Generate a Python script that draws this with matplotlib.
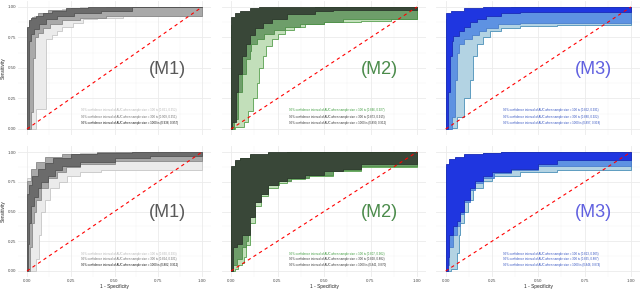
import matplotlib
matplotlib.use("Agg")
import matplotlib.pyplot as plt

plt.rcParams['font.family'] = ['Liberation Sans', 'DejaVu Sans']

# knots: (x, y) -> at x the ROC bound climbs to y, then runs right to the next knot
# top row, M1
a100_up = [(0, 0.80), (0.01, 0.86), (0.02, 0.90), (0.04, 0.93), (0.07, 0.95), (0.12, 0.97), (0.2, 0.985), (0.3, 1.0), (1, 1)]
a100_lo = [(0.05, 0.16), (0.11, 0.74), (0.14, 0.77), (0.17, 0.80), (0.2, 0.84), (0.26, 0.87), (0.32, 0.90), (0.4, 0.91), (0.55, 0.925), (1, 1)]
a300_up = [(0, 0.83), (0.01, 0.88), (0.03, 0.92), (0.06, 0.95), (0.12, 0.975), (0.25, 0.99), (0.45, 1.0), (1, 1)]
a300_lo = [(0.02, 0.14), (0.035, 0.58), (0.045, 0.75), (0.06, 0.79), (0.09, 0.83), (0.13, 0.86), (0.2, 0.89), (0.3, 0.91), (0.45, 0.925), (1, 1)]
a1000_up = [(0, 0.84), (0.01, 0.89), (0.025, 0.91), (0.05, 0.93), (0.09, 0.95), (0.14, 0.97), (0.22, 0.99), (0.35, 1.0), (1, 1)]
a1000_lo = [(0.012, 0.72), (0.02, 0.78), (0.04, 0.82), (0.07, 0.86), (0.11, 0.9), (0.17, 0.93), (0.27, 0.95), (0.42, 0.965), (0.6, 1.0), (1, 1)]

# top row, M2
b100_up = [(0, 0.75), (0.01, 0.85), (0.03, 0.9), (0.06, 0.93), (0.1, 0.95), (0.18, 0.97), (0.3, 0.99), (0.45, 1.0), (1, 1)]
b100_lo = [(0.02, 0.02), (0.07, 0.06), (0.09, 0.15), (0.12, 0.25), (0.14, 0.38), (0.15, 0.5), (0.17, 0.6), (0.19, 0.68), (0.22, 0.74),
           (0.25, 0.78), (0.29, 0.81), (0.34, 0.84), (0.4, 0.86), (0.5, 0.875), (0.7, 0.885), (0.86, 0.9), (1, 1)]
b300_up = [(0, 0.85), (0.02, 0.9), (0.05, 0.94), (0.1, 0.96), (0.18, 0.98), (0.3, 0.995), (0.45, 1), (1, 1)]
b300_lo = [(0.015, 0.08), (0.04, 0.3), (0.06, 0.45), (0.08, 0.57), (0.1, 0.64), (0.11, 0.7), (0.14, 0.74), (0.18, 0.78), (0.23, 0.81),
           (0.29, 0.84), (0.37, 0.86), (0.5, 0.88), (0.6, 0.9), (1, 1)]
b1000_up = [(0, 0.92), (0.02, 0.95), (0.05, 0.97), (0.1, 0.99), (0.15, 1.0), (1, 1)]
b1000_lo = [(0.008, 0.06), (0.025, 0.3), (0.04, 0.45), (0.06, 0.6), (0.08, 0.7), (0.1, 0.77), (0.13, 0.83), (0.17, 0.87), (0.22, 0.9),
            (0.3, 0.94), (0.45, 0.965), (0.55, 0.975), (1, 1)]

# top row, M3
c100_up = [(0, 0.6), (0.01, 0.8), (0.03, 0.88), (0.06, 0.93), (0.1, 0.96), (0.2, 0.98), (0.35, 1), (1, 1)]
c100_lo = [(0.03, 0.01), (0.06, 0.1), (0.1, 0.25), (0.13, 0.4), (0.15, 0.6), (0.17, 0.7), (0.2, 0.75), (0.24, 0.8), (0.3, 0.83),
           (0.4, 0.845), (0.6, 0.855), (1, 1)]
c300_up = [(0, 0.9), (0.02, 0.94), (0.06, 0.96), (0.12, 0.98), (0.25, 0.995), (0.4, 1), (1, 1)]
c300_lo = [(0.035, 0.1), (0.05, 0.4), (0.06, 0.62), (0.07, 0.7), (0.1, 0.74), (0.14, 0.77), (0.18, 0.8), (0.22, 0.83), (0.28, 0.86),
           (0.4, 0.87), (1, 1)]
c1000_up = [(0, 0.95), (0.03, 0.97), (0.1, 0.99), (0.2, 1), (1, 1)]
c1000_lo = [(0.015, 0.3), (0.025, 0.6), (0.035, 0.72), (0.04, 0.76), (0.07, 0.8), (0.1, 0.84), (0.13, 0.88), (0.17, 0.9),
            (0.22, 0.93), (0.3, 0.95), (0.4, 0.96), (1, 1)]

# bottom row, M1
d100_up = [(0, 0.78), (0.02, 0.85), (0.05, 0.9), (0.1, 0.95), (0.2, 0.97), (0.3, 0.99), (0.5, 1), (1, 1)]
d100_lo = [(0.05, 0.1), (0.07, 0.3), (0.08, 0.5), (0.1, 0.6), (0.13, 0.7), (0.18, 0.75), (0.23, 0.8), (0.3, 0.83), (0.42, 0.85), (1, 1)]
d300_up = [(0, 0.76), (0.02, 0.86), (0.05, 0.92), (0.1, 0.96), (0.2, 0.98), (0.4, 1), (1, 1)]
d300_lo = [(0.015, 0.2), (0.03, 0.4), (0.04, 0.5), (0.05, 0.6), (0.08, 0.7), (0.12, 0.78), (0.17, 0.83), (0.22, 0.87), (0.3, 0.9),
           (0.5, 0.925), (1, 1)]
d1000_up = [(0, 0.65), (0.01, 0.72), (0.03, 0.8), (0.06, 0.86), (0.1, 0.91), (0.15, 0.95), (0.25, 0.98), (0.4, 0.99), (0.6, 1), (1, 1)]
d1000_lo = [(0.005, 0.23), (0.01, 0.4), (0.02, 0.55), (0.04, 0.62), (0.06, 0.7), (0.08, 0.75), (0.12, 0.8), (0.16, 0.85), (0.2, 0.88),
            (0.3, 0.92), (0.5, 0.95), (0.7, 0.97), (1, 1)]

# bottom row, M2
e100_up = [(0, 0.85), (0.02, 0.9), (0.05, 0.94), (0.1, 0.97), (0.2, 0.99), (0.3, 1), (1, 1)]
e100_lo = [(0.02, 0.02), (0.04, 0.05), (0.06, 0.07), (0.07, 0.12), (0.08, 0.22), (0.1, 0.4), (0.13, 0.55), (0.16, 0.63), (0.2, 0.7),
           (0.25, 0.74), (0.3, 0.77), (0.4, 0.8), (0.55, 0.84), (0.7, 0.87), (1, 1)]
e300_up = [(0, 0.86), (0.02, 0.92), (0.05, 0.95), (0.1, 0.975), (0.2, 0.99), (0.3, 1), (1, 1)]
e300_lo = [(0.01, 0.05), (0.03, 0.1), (0.06, 0.2), (0.08, 0.25), (0.09, 0.45), (0.12, 0.58), (0.15, 0.65), (0.2, 0.72), (0.26, 0.76),
           (0.32, 0.78), (0.42, 0.81), (0.55, 0.85), (0.7, 0.88), (1, 1)]
e1000_up = [(0, 0.88), (0.02, 0.93), (0.05, 0.95), (0.1, 0.98), (0.2, 1), (1, 1)]
e1000_lo = [(0.01, 0.2), (0.03, 0.23), (0.06, 0.3), (0.1, 0.45), (0.13, 0.58), (0.16, 0.65), (0.2, 0.72), (0.25, 0.76), (0.3, 0.78),
            (0.4, 0.81), (0.5, 0.84), (0.6, 0.86), (0.7, 0.9), (1, 1)]

# bottom row, M3
f100_up = [(0, 0.85), (0.02, 0.9), (0.05, 0.94), (0.1, 0.97), (0.2, 0.99), (0.35, 1), (1, 1)]
f100_lo = [(0.03, 0.02), (0.06, 0.15), (0.07, 0.3), (0.08, 0.4), (0.1, 0.5), (0.12, 0.6), (0.15, 0.7), (0.2, 0.76), (0.25, 0.8),
           (0.4, 0.83), (0.6, 0.85), (1, 1)]
f300_up = [(0, 0.87), (0.02, 0.92), (0.05, 0.95), (0.1, 0.975), (0.2, 0.99), (0.3, 1), (1, 1)]
f300_lo = [(0.005, 0.05), (0.02, 0.2), (0.04, 0.3), (0.06, 0.38), (0.08, 0.48), (0.1, 0.58), (0.13, 0.68), (0.16, 0.74), (0.2, 0.78),
           (0.26, 0.82), (0.35, 0.85), (0.5, 0.88), (1, 1)]
f1000_up = [(0, 0.9), (0.02, 0.94), (0.05, 0.96), (0.1, 0.98), (0.2, 0.99), (0.3, 1), (1, 1)]
f1000_lo = [(0.01, 0.12), (0.02, 0.3), (0.04, 0.38), (0.06, 0.42), (0.08, 0.5), (0.1, 0.6), (0.13, 0.7), (0.16, 0.76), (0.2, 0.8),
            (0.25, 0.83), (0.35, 0.86), (0.5, 0.9), (0.6, 0.935), (1, 1)]

sample_sizes = ["100", "300", "1000"]
ci_a = ["(0.861, 0.952)", "(0.909, 0.951)", "(0.938, 0.957)"]
ci_b = ["(0.846, 0.927)", "(0.873, 0.915)", "(0.890, 0.912)"]
ci_c = ["(0.852, 0.931)", "(0.880, 0.922)", "(0.897, 0.918)"]
ci_d = ["(0.830, 0.933)", "(0.864, 0.921)", "(0.882, 0.912)"]
ci_e = ["(0.807, 0.902)", "(0.828, 0.882)", "(0.841, 0.870)"]
ci_f = ["(0.813, 0.905)", "(0.835, 0.887)", "(0.846, 0.874)"]
model_names = ["(M1)", "(M2)", "(M3)"]
ticks = [0, 0.25, 0.5, 0.75, 1.0]
tick_labels = ["0.00", "0.25", "0.50", "0.75", "1.00"]

# colours: light / medium / dark fill, edges, label colour, text colours
fills = [["#ebebeb", "#a9a9a9", "#6b6b6b"],
         ["#c2dfba", "#6e9e6a", "#394738"],
         ["#b3d3e3", "#5e92e2", "#1f36e0"]]
edges = [["#c6c6c6", "#8a8a8a", "#555555"],
         ["#58a04f", "#4d8f47", "#2c382c"],
         ["#4a90b8", "#4a7fcc", "#1a2cb8"]]
name_colors = ["#595959", "#4b8b4b", "#6060e0"]
text_colors = [["#b5b5b5", "#6a6a6a", "#111111"],
               ["#3a9a3a", "#333333", "#333333"],
               ["#3050c0", "#3050c0", "#3050c0"]]

panels = [
    [[(a100_up, a100_lo), (a300_up, a300_lo), (a1000_up, a1000_lo)], ci_a],
    [[(b100_up, b100_lo), (b300_up, b300_lo), (b1000_up, b1000_lo)], ci_b],
    [[(c100_up, c100_lo), (c300_up, c300_lo), (c1000_up, c1000_lo)], ci_c],
    [[(d100_up, d100_lo), (d300_up, d300_lo), (d1000_up, d1000_lo)], ci_d],
    [[(e100_up, e100_lo), (e300_up, e300_lo), (e1000_up, e1000_lo)], ci_e],
    [[(f100_up, f100_lo), (f300_up, f300_lo), (f1000_up, f1000_lo)], ci_f],
]


def stairs(knots):
    xs, ys = [], []
    prev = 0.0
    for x, y in knots:
        xs += [x, x]
        ys += [prev, y]
        prev = y
    return xs, ys


W, H = 640.0, 289.0
col_px = [(18.25, 192.5), (221.7, 204.6), (436.4, 203.8)]
row_px = [(0.9, 134.2), (146.05, 130.9)]

fig = plt.figure(figsize=(6.4, 2.89), dpi=100)

for i, (bands, cis) in enumerate(panels):
    r, c = divmod(i, 3)
    left, w = col_px[c]
    top, h = row_px[r]
    ax = fig.add_axes([left / W, (H - top - h) / H, w / W, h / H])
    ax.set_xlim(-0.05, 1.05)
    ax.set_ylim(-0.05, 1.05)
    for k in [0.125, 0.375, 0.625, 0.875]:
        ax.axvline(k, color="#f3f3f3", lw=0.35, zorder=0)
        ax.axhline(k, color="#f3f3f3", lw=0.35, zorder=0)
    for k in ticks:
        ax.axvline(k, color="#ebebeb", lw=0.6, zorder=0)
        ax.axhline(k, color="#ebebeb", lw=0.6, zorder=0)

    for j, (up, lo) in enumerate(bands):
        ux, uy = stairs(up)
        lx, ly = stairs(lo)
        ax.fill(ux + lx[::-1], uy + ly[::-1], facecolor=fills[c][j],
                edgecolor=edges[c][j], lw=0.6, zorder=2 + j)

    ax.plot([0, 1], [0, 1], color="red", lw=0.8, ls=(0, (3, 3)), zorder=6)

    ax.text(0.8, 0.49, model_names[c], color=name_colors[c], fontsize=13,
            ha="center", va="center", zorder=7)
    ty = [0.155, 0.10, 0.046] if r == 0 else [0.146, 0.097, 0.048]
    for j in range(3):
        ax.text(0.31, ty[j], "95% confidence interval of AUC when sample size = " + sample_sizes[j] + " is " + cis[j],
                color=text_colors[c][j], fontsize=2.1, ha="left", va="center", zorder=7)

    for s in ax.spines.values():
        s.set_visible(False)
    ax.set_xticks(ticks)
    ax.set_yticks(ticks)
    ax.tick_params(length=0, labelsize=3.2, labelcolor="#4d4d4d", pad=1.5)
    if c == 0:
        ax.set_yticklabels(tick_labels)
        ax.set_ylabel("Sensitivity", fontsize=3.4, color="#222222")
        ax.yaxis.set_label_coords(-0.066, 0.5)
    else:
        ax.set_yticklabels([])
    if r == 1:
        ax.set_xticklabels(tick_labels)
        ax.set_xlabel("1 - Specificity", fontsize=3.4, color="#222222", labelpad=1)
    else:
        ax.set_xticklabels([])

fig.savefig("out.png", dpi=100)
